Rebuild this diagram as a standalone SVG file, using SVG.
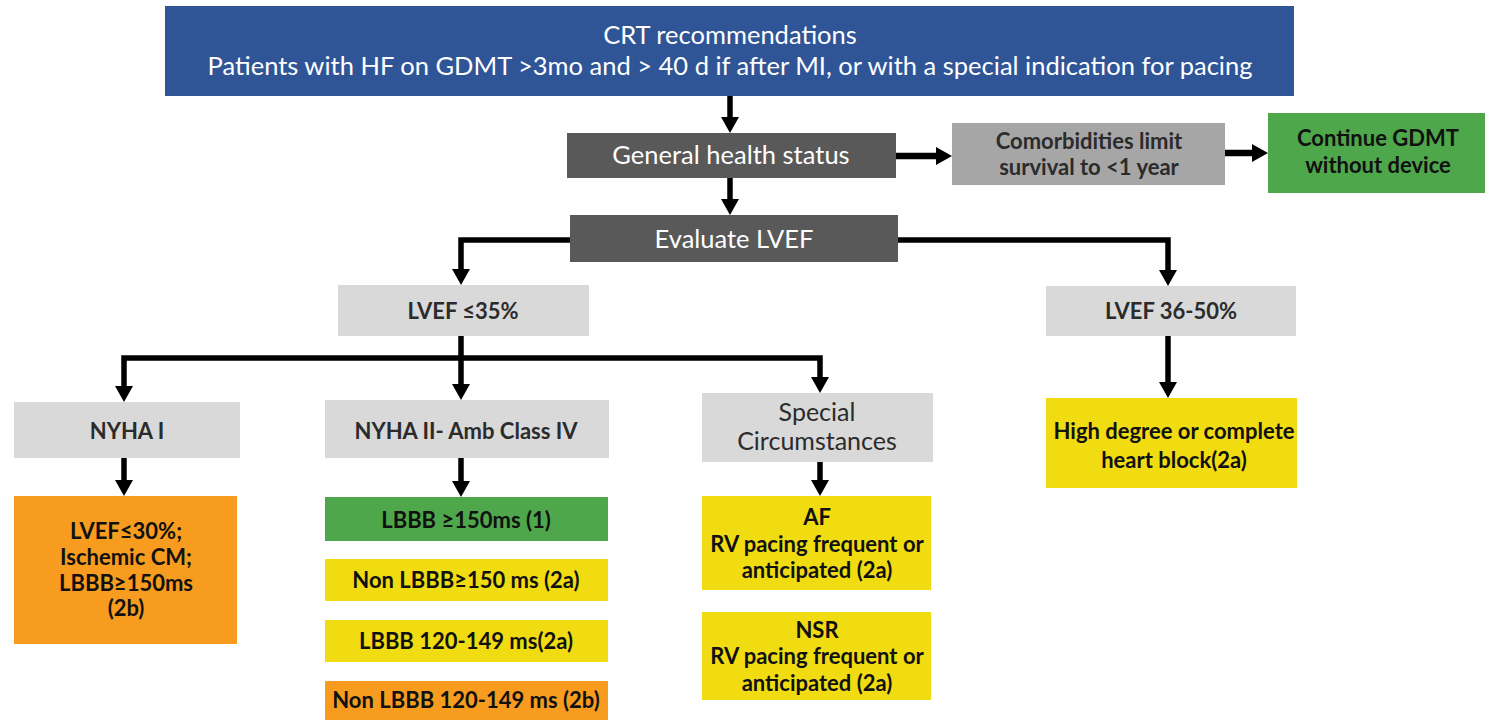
<svg xmlns="http://www.w3.org/2000/svg" width="1488" height="720" viewBox="0 0 1488 720">
  <style>
    .t { font-family: Lato, "Liberation Sans", sans-serif; text-anchor: middle; }
    .w { fill: #ffffff; font-size: 25.5px; }
    .b { fill: #111111; font-size: 22px; font-weight: bold; }
    .g { fill: #2b2b2b; font-size: 22px; font-weight: bold; }
    .r { fill: #2b2b2b; font-size: 25px; }
    .blue { fill: #2F5597; }
    .dark { fill: #595959; }
    .mid { fill: #A6A6A6; }
    .light { fill: #D9D9D9; }
    .green { fill: #4EA74A; }
    .yellow { fill: #F0DC10; }
    .orange { fill: #F79C1F; }
    .c { fill: none; stroke: #000000; stroke-width: 5.5; marker-end: url(#ah); }
    .thick { stroke-width: 6.5; }
  </style>
  <defs>
    <marker id="ah" markerUnits="userSpaceOnUse" markerWidth="18" markerHeight="18" refX="2" refY="9" orient="auto">
      <path d="M0,0 L16,9 L0,18 Z" fill="#000000"/>
    </marker>
  </defs>
  <rect width="1488" height="720" fill="#ffffff"/>

  <!-- connectors -->
  <g id="connectors">
    <path class="c" d="M730 96 V119"/>
    <path class="c thick" d="M896 156 H938"/>
    <path class="c thick" d="M1225 153 H1254"/>
    <path class="c" d="M730 178 V201"/>
    <path class="c" d="M570 240 H461 V271"/>
    <path class="c" d="M898 240 H1168 V272"/>
    <path class="c" d="M461 336 V386"/>
    <path class="c" d="M461 358 H124 V388"/>
    <path class="c" d="M461 358 H820 V379"/>
    <path class="c" d="M124 458 V482"/>
    <path class="c" d="M461 458 V483"/>
    <path class="c" d="M820 462 V482"/>
    <path class="c" d="M1168 336 V384"/>
  </g>

  <g id="crt">
    <rect class="blue" x="165" y="6" width="1129" height="90"/>
    <text class="t w" x="730" y="44">CRT recommendations</text>
    <text class="t w" x="730" y="75">Patients with HF on GDMT &gt;3mo and &gt; 40 d if after MI, or with a special indication for pacing</text>
  </g>

  <g id="general-health">
    <rect class="dark" x="567" y="133" width="329" height="45"/>
    <text class="t w" x="731" y="164">General health status</text>
  </g>

  <g id="comorbidities">
    <rect class="mid" x="952" y="123" width="273" height="62"/>
    <text class="t g" x="1089" y="149">Comorbidities limit</text>
    <text class="t g" x="1089" y="175">survival to &lt;1 year</text>
  </g>

  <g id="continue-gdmt">
    <rect class="green" x="1268" y="113" width="217" height="80"/>
    <text class="t b" x="1378" y="146">Continue GDMT</text>
    <text class="t b" x="1378" y="173">without device</text>
  </g>

  <g id="evaluate-lvef">
    <rect class="dark" x="570" y="215" width="328" height="47"/>
    <text class="t w" x="734" y="248">Evaluate LVEF</text>
  </g>

  <g id="lvef-35">
    <rect class="light" x="338" y="285" width="251" height="51"/>
    <text class="t g" x="463" y="319">LVEF ≤35%</text>
  </g>

  <g id="lvef-36-50">
    <rect class="light" x="1046" y="286" width="250" height="50"/>
    <text class="t g" x="1171" y="319">LVEF 36-50%</text>
  </g>

  <g id="nyha-1">
    <rect class="light" x="14" y="402" width="226" height="56"/>
    <text class="t g" x="127" y="439">NYHA I</text>
  </g>

  <g id="nyha-2-4">
    <rect class="light" x="325" y="400" width="284" height="58"/>
    <text class="t g" x="466" y="439">NYHA II- Amb Class IV</text>
  </g>

  <g id="special">
    <rect class="light" x="702" y="393" width="231" height="69"/>
    <text class="t r" x="817" y="421">Special</text>
    <text class="t r" x="817" y="450">Circumstances</text>
  </g>

  <g id="nyha-1-result">
    <rect class="orange" x="14" y="496" width="223" height="148"/>
    <text class="t b" x="126" y="539">LVEF≤30%;</text>
    <text class="t b" x="126" y="565">Ischemic CM;</text>
    <text class="t b" x="126" y="591">LBBB≥150ms</text>
    <text class="t b" x="126" y="616">(2b)</text>
  </g>

  <g id="lbbb-150">
    <rect class="green" x="325" y="497" width="283" height="44"/>
    <text class="t b" x="466" y="528">LBBB ≥150ms (1)</text>
  </g>

  <g id="non-lbbb-150">
    <rect class="yellow" x="325" y="559" width="283" height="42"/>
    <text class="t b" x="466" y="588">Non LBBB≥150 ms (2a)</text>
  </g>

  <g id="lbbb-120">
    <rect class="yellow" x="325" y="620" width="283" height="42"/>
    <text class="t b" x="466" y="649">LBBB 120-149 ms(2a)</text>
  </g>

  <g id="non-lbbb-120">
    <rect class="orange" x="325" y="681" width="283" height="45"/>
    <text class="t b" x="466" y="708">Non LBBB 120-149 ms (2b)</text>
  </g>

  <g id="af">
    <rect class="yellow" x="702" y="496" width="229" height="94"/>
    <text class="t b" x="817" y="525">AF</text>
    <text class="t b" x="817" y="552">RV pacing frequent or</text>
    <text class="t b" x="817" y="578">anticipated (2a)</text>
  </g>

  <g id="nsr">
    <rect class="yellow" x="702" y="612" width="229" height="88"/>
    <text class="t b" x="817" y="638">NSR</text>
    <text class="t b" x="817" y="664">RV pacing frequent or</text>
    <text class="t b" x="817" y="691">anticipated (2a)</text>
  </g>

  <g id="heart-block">
    <rect class="yellow" x="1046" y="398" width="251" height="90"/>
    <text class="t b" x="1174" y="439">High degree or complete</text>
    <text class="t b" x="1174" y="468">heart block(2a)</text>
  </g>
</svg>
